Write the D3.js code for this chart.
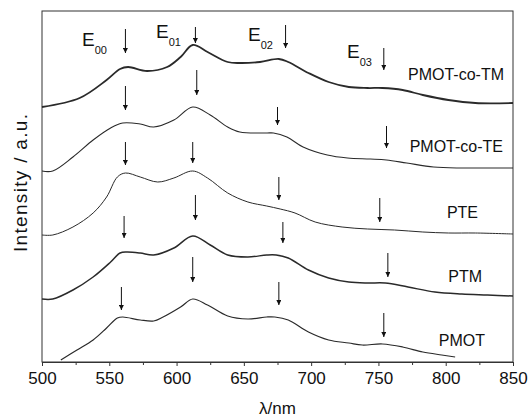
<!DOCTYPE html>
<html>
<head>
<meta charset="utf-8">
<script src="https://cdn.jsdelivr.net/npm/d3@7"></script>
<style>
  body { margin: 0; background: #fff; }
  text { font-family: "Liberation Sans", Arial, sans-serif; fill: #111; }
</style>
</head>
<body>
<svg id="chart" width="529" height="418"></svg>
<script>
// wavelengths (nm) and intensities (a.u., offset per trace)
var wlTM   = [500, 528, 548, 558, 564, 578, 593, 603, 612, 623, 638, 647, 662, 676, 683, 698, 713, 728, 742, 753, 768, 783, 802, 822, 850];
var valTM  = [25.5, 26.4, 28.2, 29.3, 29.5, 29.1, 29.5, 30.5, 31.7, 31.0, 30.0, 29.9, 30.0, 30.3, 30.0, 28.9, 28.0, 27.5, 27.4, 27.4, 27.2, 26.7, 26.2, 25.9, 25.9];

var wlTE   = [500, 508, 523, 538, 551, 560, 573, 583, 598, 612, 625, 638, 647, 667, 672, 682, 694, 712, 727, 744, 756, 771, 791, 811, 824, 850];
var valTE  = [19.1, 19.1, 20.5, 22.2, 23.4, 23.9, 23.8, 23.5, 24.2, 25.5, 24.7, 23.5, 23.0, 22.9, 22.9, 22.5, 21.5, 20.7, 20.4, 20.3, 20.2, 19.9, 19.5, 19.4, 19.4, 19.4];

var wlPTE  = [500, 508, 523, 538, 548, 556, 562, 573, 586, 598, 612, 623, 638, 653, 667, 677, 688, 703, 723, 742, 762, 783, 802, 822, 850];
var valPTE = [12.7, 12.7, 13.5, 14.9, 16.5, 18.5, 18.9, 18.5, 18.0, 18.4, 19.1, 18.4, 16.9, 16.0, 15.6, 15.3, 14.9, 14.0, 13.5, 13.3, 13.2, 13.0, 12.9, 12.9, 12.8];

var wlPTM  = [500, 508, 523, 538, 551, 558, 563, 573, 583, 598, 612, 625, 638, 653, 667, 674, 683, 698, 713, 728, 742, 755, 772, 792, 812, 831, 850];
var valPTM = [6.3, 6.3, 7.2, 8.5, 10.0, 10.9, 11.0, 10.9, 10.7, 11.4, 12.6, 11.7, 10.7, 10.5, 10.7, 10.7, 10.4, 9.2, 8.4, 8.0, 7.9, 7.9, 7.5, 7.0, 6.8, 6.7, 6.6];

var wlPMOT  = [514, 526, 538, 548, 556, 560, 573, 583, 590, 603, 612, 623, 638, 653, 667, 673, 683, 698, 713, 728, 738, 753, 768, 783, 797, 807];
var valPMOT = [0.2, 1.2, 2.2, 3.4, 4.4, 4.5, 4.2, 4.1, 4.5, 5.5, 6.3, 5.7, 4.6, 4.3, 4.5, 4.5, 4.2, 3.0, 2.2, 1.9, 1.7, 1.8, 1.5, 1.0, 0.7, 0.5];

var seriesNames = ["PMOT-co-TM", "PMOT-co-TE", "PTE", "PTM", "PMOT"];

// arrows: wavelength, top and tip intensity
var arrowNm  = [562, 614, 681, 754,   562, 615, 675, 756,   562, 612, 676, 751,   561, 614, 679, 757,   559, 612, 676, 754];
var arrowTop = [33.3, 33.5, 33.7, 31.4,  27.6, 29.2, 25.5, 23.6,  22.0, 22.0, 18.5, 16.4,  14.6, 16.7, 14.0, 10.9,  7.5, 10.5, 8.0, 4.9];
var arrowTip = [30.9, 31.9, 31.4, 29.2,  25.2, 26.7, 23.7, 21.4,  19.7, 19.9, 16.2, 14.0,  12.4, 14.2, 11.9, 8.5,   5.2, 8.0, 5.7, 2.5];

var xTicks = [500, 550, 600, 650, 700, 750, 800, 850];
var xMinor = [525, 575, 625, 675, 725, 775, 825];

var svg = d3.select("#chart");
var pLeft = 42, pRight = 513, pTop = 11, pBottom = 362;

var x = d3.scaleLinear().domain([500, 850]).range([pLeft, pRight]);
var y = d3.scaleLinear().domain([0, 35.1]).range([pBottom, pTop]);

var defs = svg.append("defs");
defs.append("marker")
	.attr("id", "head")
	.attr("viewBox", "0 0 10 10")
	.attr("refX", 10).attr("refY", 5)
	.attr("markerUnits", "userSpaceOnUse")
	.attr("markerWidth", 8).attr("markerHeight", 5)
	.attr("orient", "auto")
	.append("path").attr("d", "M0,0 L10,5 L0,10 Z").attr("fill", "#111");

// frame
svg.append("rect")
	.attr("x", pLeft).attr("y", pTop)
	.attr("width", pRight - pLeft).attr("height", pBottom - pTop)
	.attr("fill", "none").attr("stroke", "#333").attr("stroke-width", 1);

// bottom axis
var xAxis = d3.axisBottom(x).tickValues(xTicks).tickSize(4).tickPadding(6).tickFormat(d3.format("d"));
var gx = svg.append("g").attr("transform", "translate(0," + pBottom + ")").call(xAxis);
gx.select(".domain").attr("stroke", "#333");
gx.selectAll(".tick line").attr("stroke", "#333");
gx.selectAll("text").attr("font-size", 17).attr("fill", "#111")
	.attr("font-family", "Liberation Sans, Arial, sans-serif");
svg.append("g").attr("transform", "translate(0," + pBottom + ")")
	.call(d3.axisBottom(x).tickValues(xMinor).tickSize(3).tickFormat(""))
	.call(function(g){ g.select(".domain").remove(); g.selectAll("line").attr("stroke", "#333"); });

// traces
var traces = [
	{wl: wlTM, v: valTM, w: 1.8},
	{wl: wlTE, v: valTE, w: 1.1},
	{wl: wlPTE, v: valPTE, w: 1.0},
	{wl: wlPTM, v: valPTM, w: 1.5},
	{wl: wlPMOT, v: valPMOT, w: 1.2}
];
var line = d3.line()
	.x(function(d){ return x(d[0]); })
	.y(function(d){ return y(d[1]); })
	.curve(d3.curveCatmullRom.alpha(0.5));
traces.forEach(function(t){
	var pts = t.wl.map(function(w, i){ return [w, t.v[i]]; });
	svg.append("path")
		.attr("d", line(pts))
		.attr("fill", "none")
		.attr("stroke", "#2a2a2a")
		.attr("stroke-width", t.w);
});

// arrows
arrowNm.forEach(function(nm, i){
	svg.append("line")
		.attr("x1", x(nm)).attr("x2", x(nm))
		.attr("y1", y(arrowTop[i])).attr("y2", y(arrowTip[i]))
		.attr("stroke", "#111").attr("stroke-width", 1)
		.attr("marker-end", "url(#head)");
});

// series labels
var labelPos = [[504, 80], [503, 152], [478, 218], [482, 282], [485, 346]];
seriesNames.forEach(function(n, i){
	svg.append("text")
		.attr("x", labelPos[i][0]).attr("y", labelPos[i][1])
		.attr("text-anchor", "end")
		.attr("font-size", 16)
		.text(n);
});

// E labels
var eLabels = [["00", 82, 46], ["01", 156, 38], ["02", 248, 41], ["03", 347, 58]];
eLabels.forEach(function(e){
	var t = svg.append("text").attr("x", e[1]).attr("y", e[2]).attr("font-size", 19);
	t.append("tspan").text("E");
	t.append("tspan").attr("font-size", 11).attr("dy", 8).text(e[0]);
});

// axis titles
svg.append("text")
	.attr("x", (pLeft + pRight) / 2).attr("y", 414)
	.attr("text-anchor", "middle")
	.attr("font-size", 17)
	.text("λ/nm");
svg.append("text")
	.attr("transform", "translate(27,183) rotate(-90)")
	.attr("text-anchor", "middle")
	.attr("font-size", 19)
	.attr("textLength", 138)
	.text("Intensity / a.u.");
</script>
</body>
</html>
